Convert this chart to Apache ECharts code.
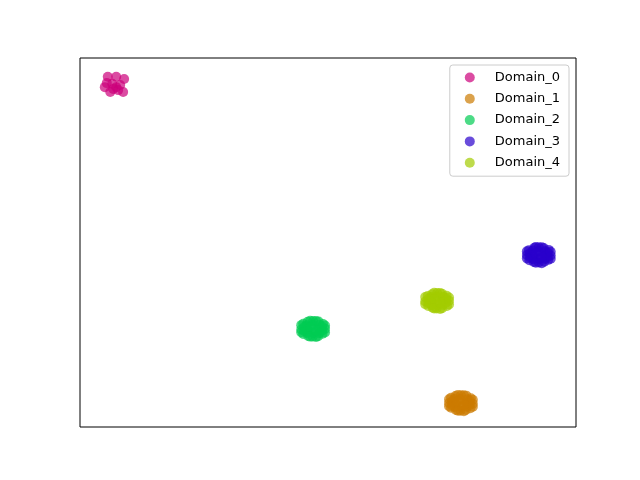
<!DOCTYPE html>
<html>
<head>
<meta charset="utf-8">
<script src="https://cdn.jsdelivr.net/npm/echarts@6/dist/echarts.min.js"></script>
<style>html,body{margin:0;padding:0;background:#fff}#c{width:640px;height:480px}</style>
</head>
<body>
<div id="c"></div>
<script>
var domainNames = ['Domain_0', 'Domain_1', 'Domain_2', 'Domain_3', 'Domain_4'];
var domainColors = ['#cc007a', '#cc7a00', '#00cc52', '#2900cc', '#a3cc00'];

var domain0 = [[5.6,94.9],[7.3,94.9],[8.9,94.3],[5.0,92.1],[6.1,90.8],[8.7,90.8],[7.3,92.1],[6.5,93.0],[8.1,92.7],[5.4,93.2],[7.7,91.3],[6.7,91.6]];
var domain1 = [[76.8,6.5],[75.6,6.4],[78.0,6.6],[74.4,6.5],[79.2,6.3],[76.7,7.6],[76.9,5.4],[76.8,8.6],[76.7,4.4],[75.5,7.6],[78.1,7.5],[75.6,5.4],[78.0,5.5],[74.8,7.9],[78.8,7.8],[74.8,5.2],[78.7,5.1],[75.7,8.4],[77.9,8.5],[75.8,4.6],[77.8,4.6],
  [75.0,7.0],[78.6,6.0],[75.0,5.9],[78.6,7.1],[76.2,8.7],[77.4,4.3],[77.4,8.6],[76.2,4.4],[74.4,7.5],[79.2,5.5],[74.4,5.6],[79.2,7.4],[76.2,7.0],[77.4,6.0]];
var domain2 = [[47.0,26.6],[45.8,26.5],[48.2,26.7],[44.6,26.4],[49.4,26.6],[46.9,27.7],[47.1,25.5],[47.0,28.7],[46.9,24.5],[45.7,27.6],[48.3,27.7],[45.8,25.5],[48.2,25.4],[45.0,28.0],[49.0,27.9],[45.0,25.2],[48.9,25.3],[45.9,28.5],[48.1,28.6],[46.0,24.7],[48.0,24.6],
  [45.2,27.1],[48.8,26.1],[45.2,26.0],[48.8,27.2],[46.4,28.8],[47.6,24.4],[47.6,28.7],[46.4,24.5],[44.6,27.6],[49.4,25.6],[44.6,25.7],[49.4,27.5],[46.4,27.1],[47.6,26.1]];
var domain3 = [[92.5,46.6],[91.3,46.5],[93.7,46.7],[90.1,46.6],[94.9,46.5],[92.4,47.7],[92.6,45.5],[92.5,48.7],[92.5,44.6],[91.3,47.8],[93.8,47.6],[91.4,45.5],[93.7,45.6],[90.5,47.9],[94.5,48.0],[90.6,45.2],[94.4,45.3],[91.6,48.6],[93.5,48.5],[91.5,44.7],[93.6,44.8],
  [90.7,47.1],[94.3,46.1],[90.7,46.0],[94.3,47.2],[91.9,48.8],[93.1,44.4],[93.1,48.7],[91.9,44.5],[90.1,47.6],[94.9,45.6],[90.1,45.7],[94.9,47.5],[91.9,47.1],[93.1,46.1]];
var domain4 = [[72.0,34.2],[70.8,34.1],[73.2,34.2],[69.6,34.0],[74.4,34.2],[71.9,35.3],[72.1,33.1],[72.0,36.3],[71.9,32.1],[70.8,35.2],[73.2,35.3],[70.9,33.0],[73.1,33.1],[70.1,35.5],[73.9,35.6],[70.2,32.8],[74.0,32.8],[71.0,36.0],[73.0,36.1],[71.1,32.3],[73.0,32.2],
  [70.2,34.7],[73.8,33.7],[70.2,33.6],[73.8,34.8],[71.4,36.4],[72.6,32.0],[72.6,36.3],[71.4,32.1],[69.6,35.2],[74.4,33.2],[69.6,33.3],[74.4,35.1],[71.4,34.7],[72.6,33.7]];

var domainData = [domain0, domain1, domain2, domain3, domain4];

var chart = echarts.init(document.getElementById('c'), null, {renderer: 'canvas'});
var series = domainNames.map(function (name, i) {
  return {
    name: name,
    type: 'scatter',
    data: domainData[i],
    symbol: 'circle',
    symbolSize: 10,
    itemStyle: {color: domainColors[i], opacity: 0.7},
    emphasis: {disabled: true}
  };
});

chart.setOption({
  animation: false,
  backgroundColor: '#fff',
  textStyle: {fontFamily: 'DejaVu Sans'},
  grid: {left: 80, top: 58, width: 496, height: 369, show: true, borderColor: '#000', borderWidth: 1, backgroundColor: 'transparent'},
  xAxis: {type: 'value', min: 0, max: 100, show: false},
  yAxis: {type: 'value', min: 0, max: 100, show: false},
  legend: {
    orient: 'vertical',
    right: 71,
    top: 65,
    padding: [6, 9, 7, 15],
    itemWidth: 40,
    itemHeight: 10,
    itemGap: 8.3,
    icon: 'circle',
    backgroundColor: '#fff',
    borderColor: '#cccccc',
    borderWidth: 1,
    borderRadius: 3,
    textStyle: {fontFamily: 'DejaVu Sans', fontSize: 13, color: '#000'},
    data: domainNames
  },
  series: series
});
</script>
</body>
</html>
